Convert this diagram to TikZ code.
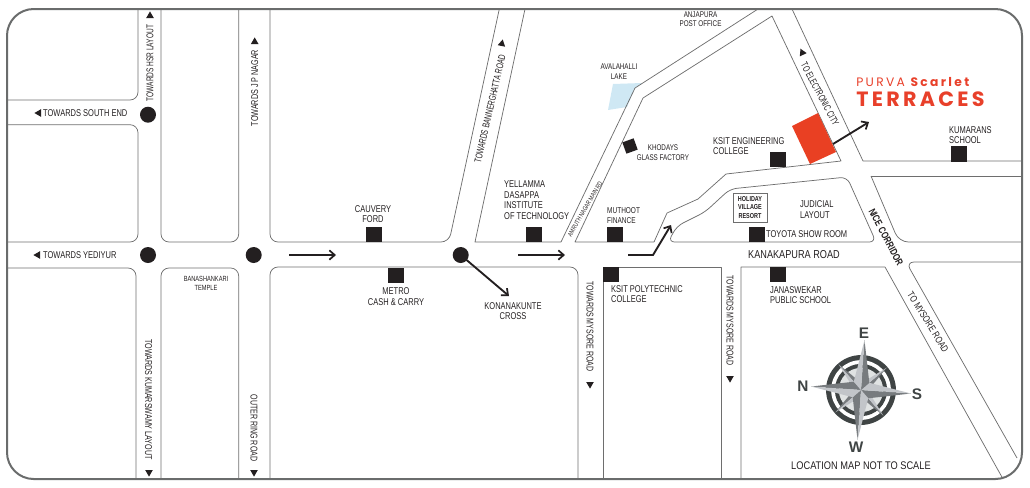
\documentclass[tikz,border=0pt]{standalone}
\usepackage{fontspec}
\usetikzlibrary{arrows.meta}
\setmainfont{Liberation Sans}
\newfontfamily\brandA[LetterSpace=19]{Poppins}
\newfontfamily\brandB[LetterSpace=16]{Poppins}
\definecolor{redb}{HTML}{E8402A}
\definecolor{redp}{HTML}{E94023}
\definecolor{lake}{HTML}{CFE8F4}
\definecolor{ink}{HTML}{231F20}
\definecolor{roadc}{HTML}{6E6E6E}
\definecolor{framec}{HTML}{6A6C6C}
\definecolor{cdark}{HTML}{3F4444}
\definecolor{cmid}{HTML}{777B7E}
\definecolor{clight}{HTML}{C2C5C9}
\definecolor{cpale}{HTML}{E0E3E3}
\tikzset{
  road/.style={draw=roadc,line width=0.55pt,line join=round},
  lbl/.style={transform shape,xscale=0.76,font=\fontsize{7.4}{7.9}\selectfont,text=ink,inner sep=0pt,align=left},
  lblc/.style={lbl,align=center},
  tiny/.style={lbl,align=center,font=\fontsize{5.6}{6.6}\selectfont},
  bld/.style={lbl,font=\bfseries\fontsize{7.6}{8}\selectfont},
  sq/.style={fill=ink,minimum width=12pt,minimum height=11.4pt,inner sep=0pt},
  dot/.style={circle,fill=ink,minimum size=12pt,inner sep=0pt},
  conn/.style={draw=ink,line width=1.4pt,-{Straight Barb[length=4pt,width=7pt,line width=1.3pt]}},
  cardinal/.style={font=\bfseries\fontsize{11.5}{12}\selectfont,text=cdark,inner sep=0pt},
}
\newcommand\tri[3]{\fill[ink,shift={(#1,#2)},rotate=#3] (0,-3.6)--(3.8,3)--(-3.8,3)--cycle;}
\begin{document}
\begin{tikzpicture}[x=0.75pt,y=-0.75pt]
\useasboundingbox (0,0) rectangle (1030,487);
% lake and site
\fill[lake] (613,84)--(642,83)--(635,88)--(627,107)--(608,110)--cycle;
% roads
\draw[road,rounded corners=6pt] (138,9)--(138,100)--(7,100);
\draw[road,rounded corners=6pt] (7,124.7)--(138,124.7)--(138,242)--(7,242);
\draw[road,rounded corners=6pt] (161,9)--(161,242)--(238.7,242)--(238.7,9);
\draw[road,rounded corners=6pt] (499.3,9)--(449,242)--(270,242)--(270,9);
\draw[road] (525,9)--(475,242)--(561,242)--(635,88)--(758,9);
\draw[road] (575,242)--(643,98)--(772,16)--(841,161)--(726,174)--(698,199)--(667,213)--(654,242)--cycle;
\draw[road,rounded corners=5pt] (668,242)--(677,226)--(705,212)--(730,189)--(847,177)--(876,242)--cycle;
\draw[road] (792,9)--(863,161)--(1022,161);
\draw[road,rounded corners=7pt] (871,176)--(1022,176);
\draw[road,rounded corners=7pt] (871,176)--(899,242)--(1022,242);
\draw[road,rounded corners=6pt] (1022,262)--(906,262)--(1017,458);
\draw[road] (1003,479)--(885,267)--(741,267)--(741,479);
\draw[road] (721,479)--(721,267)--(603,267)--(603,479);
\draw[road,rounded corners=6pt] (578,479)--(578,267)--(270,267)--(270,479);
\draw[road,rounded corners=6pt] (161,479)--(161,268)--(238.7,268)--(238.7,479);
\draw[road,rounded corners=6pt] (7,268)--(136,268)--(136,479);
% frame
\draw[framec,line width=1.5pt,rounded corners=20pt] (7,9) rectangle (1022,479);
\fill[redp] (792,126)--(818,113)--(836,152)--(810,164)--cycle;
% building squares
\node[sq] (cauvery) at (374,234.5) {};
\node[sq] (yellamma) at (534,234.5) {};
\node[sq] (muthoot) at (615,234.5) {};
\node[sq] (ksiteng) at (778,159.5) {};
\node[sq] (kumarans) at (959,154) {};
\node[sq] (toyota) at (757,234.5) {};
\node[sq] (metro) at (396,275.5) {};
\node[sq] (ksitpoly) at (611,274.5) {};
\node[sq] (janaswekar) at (778,274.5) {};
\node[fill=ink,minimum width=9pt,minimum height=9pt,inner sep=0pt,rotate=20] (khodays) at (630,146) {};
% junctions
\node[dot] (j1) at (148,114.7) {};
\node[dot] (j2) at (148,255) {};
\node[dot] (j3) at (253.7,255) {};
\node[dot] (j4) at (460.7,255) {};
% arrows
\coordinate (a1s) at (289,255); \coordinate (a1e) at (336,255);
\coordinate (a2s) at (518,255); \coordinate (a2e) at (565,255);
\coordinate (a3e) at (509,296);
\coordinate (a4s) at (628,255); \coordinate (a4k) at (653,255); \coordinate (a4e) at (671,225);
\coordinate (a5s) at (833,144); \coordinate (a5e) at (869,122);
\draw[conn] (a1s)--(a1e);
\draw[conn] (a2s)--(a2e);
\draw[conn] (j4.center)--(a3e);
\draw[conn] (a4s)--(a4k)--(a4e);
\draw[conn] (a5s)--(a5e);
% small arrowheads
\tri{150}{15}{0}
\tri{254.7}{41}{0}
\tri{38}{113}{90}
\tri{37}{255}{90}
\tri{149}{473}{180}
\tri{254}{473}{180}
\tri{502}{43}{-12}
\tri{802}{52}{25}
\tri{590}{385}{180}
\tri{730}{379}{180}
% labels
\node[rotate=90,lbl,xscale=0.87] (t1) at (150,63) {TOWARDS HSR LAYOUT};
\node[rotate=90,lbl,xscale=0.96] (t2) at (254.7,88) {TOWARDS J P NAGAR};
\node[lbl,anchor=west] (t3) at (43,113) {TOWARDS SOUTH END};
\node[lbl,anchor=west] (t4) at (43,255) {TOWARDS YEDIYUR};
\node[rotate=-90,lbl,xscale=0.95] (t5) at (148.6,399.5) {TOWARDS KUMARSWAMY LAYOUT};
\node[rotate=-90,lbl,xscale=0.94] (t6) at (254,428) {OUTER RING ROAD};
\node[tiny] (t7) at (206,283) {BANASHANKARI\\TEMPLE};
\node[lblc] (t8) at (373,214) {CAUVERY\\FORD};
\node[lbl,anchor=west] (t9) at (504,200) {YELLAMMA\\DASAPPA\\INSTITUTE\\OF TECHNOLOGY};
\node[rotate=77,lbl,xscale=0.89] (t10) at (490,109) {TOWARDS BANNERGHATTA ROAD};
\node[rotate=60,lbl,font=\fontsize{4.9}{5}\selectfont] (t11) at (585,209) {AMRUTH NAGAR MAIN RD};
\node[tiny,font=\fontsize{6.2}{7}\selectfont] (t12) at (619,71.5) {AVALAHALLI\\LAKE};
\node[tiny,font=\fontsize{6.2}{7}\selectfont] (t13) at (663,152.5) {KHODAYS\\GLASS FACTORY};
\node[lbl,anchor=west,font=\fontsize{6.4}{7}\selectfont] (t14) at (607,215.5) {MUTHOOT\\FINANCE};
\node[tiny,font=\fontsize{6.2}{7}\selectfont] (t15) at (700.5,19.5) {ANJAPURA\\POST OFFICE};
\node[rotate=-62,lbl,xscale=0.88] (t16) at (820,94) {TO ELECTRONIC CITY};
\node[lbl,anchor=west] (t17) at (713,146) {KSIT ENGINEERING\\COLLEGE};
\node[lbl,anchor=west] (t18) at (949,135) {KUMARANS\\SCHOOL};
\node[draw=roadc,line width=0.55pt,minimum width=33.5pt,minimum height=21.7pt,transform shape,xscale=0.76,inner sep=0pt,align=center,font=\bfseries\fontsize{5.4}{6.2}\selectfont,text=ink] (t19) at (750,207.5) {HOLIDAY\\VILLAGE\\RESORT};
\node[lbl,anchor=west] (t20) at (800,209.5) {JUDICIAL\\LAYOUT};
\node[lbl,anchor=west] (t21) at (766,234) {TOYOTA SHOW ROOM};
\node[lbl,anchor=west,xscale=1.05,font=\fontsize{8.6}{9}\selectfont] (t22) at (748,255) {KANAKAPURA ROAD};
\node[rotate=-62,bld] (t23) at (886,237) {NICE CORRIDOR};
\node[rotate=-58,lbl] (t24) at (928,322) {TO MYSORE ROAD};
\node[lblc] (t25) at (396,296.5) {METRO\\CASH \& CARRY};
\node[lblc] (t26) at (513,311) {KONANAKUNTE\\CROSS};
\node[rotate=-90,lbl,xscale=0.93] (t27) at (590,326.5) {TOWARDS MYSORE ROAD};
\node[lbl,anchor=west] (t28) at (611,294) {KSIT POLYTECHNIC\\COLLEGE};
\node[rotate=-90,lbl,xscale=0.93] (t29) at (730,320.5) {TOWARDS MYSORE ROAD};
\node[lbl,anchor=west] (t30) at (770,295) {JANASWEKAR\\PUBLIC SCHOOL};
\node[lbl,anchor=west,xscale=1.1,font=\fontsize{8.3}{9}\selectfont] (t31) at (791,466) {LOCATION MAP NOT TO SCALE};
% brand
\node[inner sep=0pt,anchor=west,text=redb,font=\brandA\fontsize{9.2}{10}\selectfont] (b1) at (856,82) {PURVA {\bfseries Scarlet}};
\node[inner sep=0pt,anchor=west,text=redb,font=\brandB\bfseries\fontsize{15.5}{16}\selectfont] (b2) at (856,99) {TERRACES};
% compass
\begin{scope}[shift={(861,390)}]
  \fill[cdark] (0,0) circle (26.2pt);
  \fill[white] (0,0) circle (22.4pt);
  \fill[cdark] (0,0) circle (19.6pt);
  \fill[cpale] (0,0) circle (16.6pt);
  \foreach \a in {49,139,229,319}{
    \fill[cmid] (0,0)--(\a:34)--({\a+35}:8)--cycle;
    \fill[clight] (0,0)--(\a:34)--({\a-35}:8)--cycle;
  }
  \foreach \a in {4,94,184,274}{
    \fill[cmid] (0,0)--(\a:50)--({\a+45}:11)--cycle;
    \fill[clight] (0,0)--(\a:50)--({\a-45}:11)--cycle;
  }
\end{scope}
\node[cardinal] (ce) at (864,333) {E};
\node[cardinal] (cs) at (917,394) {S};
\node[cardinal] (cw) at (856,447) {W};
\node[cardinal] (cn) at (803,386) {N};
\end{tikzpicture}
\end{document}
